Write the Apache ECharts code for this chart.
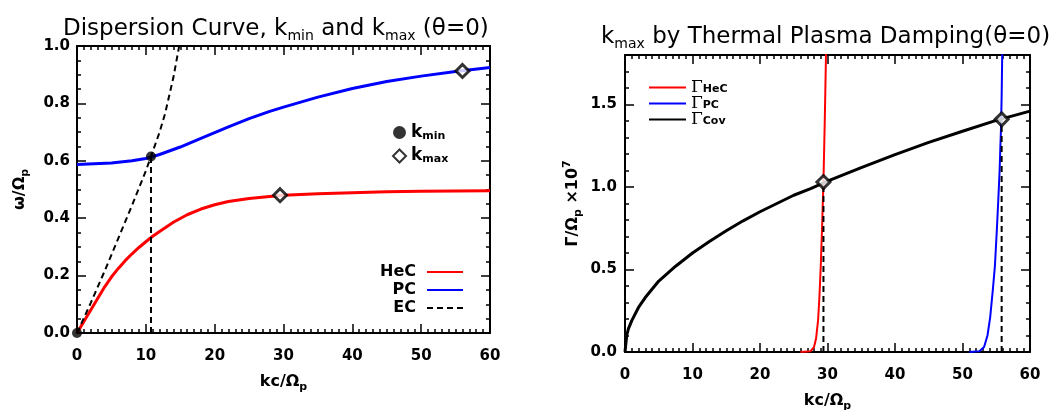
<!DOCTYPE html>
<html>
<head>
<meta charset="utf-8">
<script src="https://cdn.jsdelivr.net/npm/echarts@6/dist/echarts.min.js"></script>
<style>
html, body { margin: 0; padding: 0; background: #fff; }
#chart { width: 1055px; height: 410px; }
</style>
</head>
<body>
<div id="chart"></div>
<script>
// ---- left panel: dispersion curves (kc/Omega_p vs omega/Omega_p)
const kHeC = [0, 1, 2, 3, 4, 5, 6, 7, 8, 9, 10, 11, 12, 14, 16, 18, 20, 22, 25, 28, 30, 35, 40, 45, 50, 55, 60];
const wHeC = [0, 0.04, 0.08, 0.12, 0.16, 0.195, 0.225, 0.252, 0.276, 0.298, 0.318, 0.337, 0.354, 0.386, 0.412, 0.432, 0.447, 0.458, 0.469, 0.476, 0.48, 0.485, 0.489, 0.492, 0.494, 0.495, 0.496];
const kPC = [0, 5, 8, 10, 12, 15, 18, 20, 22, 25, 28, 30, 35, 40, 45, 50, 55, 60];
const wPC = [0.587, 0.592, 0.6, 0.608, 0.622, 0.648, 0.678, 0.698, 0.718, 0.747, 0.772, 0.787, 0.822, 0.852, 0.876, 0.895, 0.911, 0.925];
const kEC = [0, 2, 4, 6, 8, 10, 10.75, 12, 12.8, 14, 15, 16];
const wEC = [0, 0.105, 0.215, 0.33, 0.445, 0.565, 0.615, 0.7, 0.765, 0.89, 1.02, 1.15];
const kminPts = [[0, 0], [10.75, 0.615]];
const kmaxPts = [[29.5, 0.48], [56, 0.913]];

// ---- right panel: damping rates (x 1e7)
const kGHeC = [26, 27.5, 28, 28.3, 28.6, 28.8, 29.0, 29.2, 29.4, 29.6, 29.8];
const gHeC = [0, 0.005, 0.03, 0.08, 0.19, 0.33, 0.52, 0.76, 1.03, 1.41, 1.85];
const kGPC = [51, 52.5, 53.2, 53.7, 54.1, 54.5, 54.8, 55.1, 55.3, 55.5, 55.6, 55.7, 55.8, 55.9];
const gPC = [0, 0.005, 0.03, 0.1, 0.21, 0.38, 0.52, 0.75, 0.92, 1.1, 1.23, 1.35, 1.55, 1.85];
const kGCov = [0, 0.25, 0.5, 1, 2, 3, 4, 5, 7.5, 10, 12.5, 15, 17.5, 20, 22.5, 25, 27.5, 30, 35, 40, 45, 50, 55, 60];
const gCov = [0, 0.1, 0.14, 0.19, 0.27, 0.33, 0.38, 0.43, 0.52, 0.6, 0.67, 0.735, 0.795, 0.85, 0.9, 0.95, 0.99, 1.035, 1.118, 1.196, 1.27, 1.338, 1.404, 1.46];
const kmaxRight = [[29.4, 1.03], [55.8, 1.41]];

const zip = (xs, ys) => xs.map((x, i) => [x, ys[i]]);
const FONT = 'DejaVu Sans';

const sub = { fontFamily: FONT, fontSize: 11, fontWeight: 'bold', lineHeight: 12, verticalAlign: 'bottom', color: '#000' };
const sup = { fontFamily: FONT, fontSize: 11, fontWeight: 'bold', lineHeight: 12, verticalAlign: 'top', color: '#000' };
const titleText = { fontFamily: FONT, fontSize: 23, fontWeight: 'normal', lineHeight: 28, color: '#000' };
const titleSub = { fontFamily: FONT, fontSize: 14, fontWeight: 'normal', lineHeight: 14, verticalAlign: 'bottom', color: '#000' };
const nameText = { fontFamily: FONT, fontSize: 16, fontWeight: 'bold', lineHeight: 22, color: '#000' };
const tickLabel = { color: '#000', fontFamily: FONT, fontSize: 15, fontWeight: 'bold' };

function axis(grid, pos, min, max, interval, minorSplit, labels, extra) {
  return Object.assign({
    type: 'value', gridIndex: grid, position: pos, min: min, max: max, interval: interval,
    axisLine: { onZero: false, lineStyle: { color: '#000', width: 2 } },
    axisTick: { inside: true, length: 9, lineStyle: { color: '#000', width: 1.5 } },
    minorTick: { show: true, splitNumber: minorSplit, length: 4, lineStyle: { color: '#000', width: 1.5 } },
    splitLine: { show: false },
    axisLabel: Object.assign({ show: labels }, tickLabel)
  }, extra || {});
}

function line(name, xi, yi, data, color, width, dashed) {
  return {
    name: name, type: 'line', xAxisIndex: xi, yAxisIndex: yi, data: data,
    symbol: 'none', smooth: false,
    lineStyle: { color: color, width: width, type: dashed ? [6, 4] : 'solid' },
    itemStyle: { color: color }, z: 3
  };
}

function markers(name, xi, yi, data, filled) {
  return {
    name: name, type: 'scatter', xAxisIndex: xi, yAxisIndex: yi, data: data,
    symbol: filled ? 'circle' : 'diamond', symbolSize: filled ? 10 : 13,
    itemStyle: filled ? { color: '#000' } : { color: '#fff', borderColor: '#000', borderWidth: 3 },
    z: 10
  };
}

const chart = echarts.init(document.getElementById('chart'), null, { renderer: 'canvas' });

chart.setOption({
  animation: false,
  backgroundColor: '#fff',
  title: [
    {
      text: '{t|Dispersion Curve, k}{s|min}{t| and k}{s|max}{t| (θ=0)}',
      left: 58, top: 10,
      textStyle: { rich: { t: titleText, s: titleSub } }
    },
    {
      text: '{t|k}{s|max}{t| by Thermal Plasma Damping(θ=0)}',
      left: 596, top: 18,
      textStyle: { rich: { t: titleText, s: titleSub } }
    }
  ],
  grid: [
    { left: 77, right: 565, top: 46, bottom: 77, outerBoundsMode: 'none' },
    { left: 625, right: 25, top: 55, bottom: 58, outerBoundsMode: 'none' }
  ],
  xAxis: [
    axis(0, 'bottom', 0, 60, 10, 10, true, {
      name: '{a|kc/Ω}{s|p}', nameLocation: 'middle', nameGap: 38,
      nameTextStyle: { rich: { a: nameText, s: sub } },
      axisLabel: Object.assign({ margin: 16 }, tickLabel)
    }),
    axis(0, 'top', 0, 60, 10, 10, false),
    axis(1, 'bottom', 0, 60, 10, 10, true, {
      name: '{a|kc/Ω}{s|p}', nameLocation: 'middle', nameGap: 38,
      nameTextStyle: { rich: { a: nameText, s: sub } },
      axisLabel: Object.assign({ margin: 16 }, tickLabel)
    }),
    axis(1, 'top', 0, 60, 10, 10, false)
  ],
  yAxis: [
    axis(0, 'left', 0, 1.0, 0.2, 4, true, {
      name: '{a|ω/Ω}{s|p}', nameLocation: 'middle', nameGap: 46, nameRotate: 90,
      nameTextStyle: { rich: { a: nameText, s: sub } },
      axisLabel: Object.assign({ margin: 7, formatter: v => v.toFixed(1) }, tickLabel)
    }),
    axis(0, 'right', 0, 1.0, 0.2, 4, false),
    axis(1, 'left', 0, 1.8, 0.5, 5, true, {
      name: '{a|Γ/Ω}{s|p}{a| ×10}{u|7}', nameLocation: 'middle', nameGap: 41, nameRotate: 90,
      nameTextStyle: { rich: { a: nameText, s: sub, u: sup } },
      axisLabel: Object.assign({ margin: 8, showMaxLabel: false, formatter: v => v.toFixed(1) }, tickLabel)
    }),
    axis(1, 'right', 0, 1.8, 0.5, 5, false)
  ],
  legend: [
    {
      data: ['k_min', 'k_max'], orient: 'vertical', left: 387, top: 119,
      itemWidth: 13, itemHeight: 13, itemGap: 6, selectedMode: false,
      formatter: n => '{a|k}{s|' + n.slice(2) + '}',
      textStyle: { rich: { a: { fontFamily: FONT, fontSize: 17, fontWeight: 'bold', lineHeight: 18, color: '#000' }, s: sub } }
    },
    {
      data: ['HeC', 'PC', 'EC'], orient: 'vertical', align: 'right', right: 586, top: 259,
      itemWidth: 36, itemHeight: 10, itemGap: 2, selectedMode: false,
      itemStyle: { opacity: 0 },
      textStyle: { color: '#000', fontFamily: FONT, fontSize: 16, fontWeight: 'bold', lineHeight: 16, padding: [0, 6, 0, 0] }
    },
    {
      data: ['G_HeC', 'G_PC', 'G_Cov'], orient: 'vertical', left: 643, top: 74,
      itemWidth: 37, itemHeight: 10, itemGap: -1, selectedMode: false,
      itemStyle: { opacity: 0 },
      formatter: n => '{g|Γ}{s|' + n.slice(2) + '}',
      textStyle: { lineHeight: 14, rich: { g: { fontFamily: 'DejaVu Serif', fontSize: 17, color: '#000', lineHeight: 14 }, s: Object.assign({}, sub, { lineHeight: 10 }) } }
    }
  ],
  series: [
    line('HeC', 0, 0, zip(kHeC, wHeC), '#ff0000', 3, false),
    line('PC', 0, 0, zip(kPC, wPC), '#0000ff', 3, false),
    line('EC', 0, 0, zip(kEC, wEC), '#000', 2, true),
    line('kminLine', 0, 0, [[kminPts[1][0], 0], kminPts[1]], '#000', 2, true),
    markers('k_min', 0, 0, kminPts, true),
    markers('k_max', 0, 0, kmaxPts, false),

    line('G_HeC', 2, 2, zip(kGHeC, gHeC), '#ff0000', 2, false),
    line('G_PC', 2, 2, zip(kGPC, gPC), '#0000ff', 2, false),
    line('G_Cov', 2, 2, zip(kGCov, gCov), '#000', 3, false),
    line('dropHeC', 2, 2, [[kmaxRight[0][0], 0], kmaxRight[0]], '#000', 2, true),
    line('dropPC', 2, 2, [[kmaxRight[1][0], 0], kmaxRight[1]], '#000', 2, true),
    markers('kmaxRight', 2, 2, kmaxRight, false)
  ]
});
</script>
</body>
</html>
